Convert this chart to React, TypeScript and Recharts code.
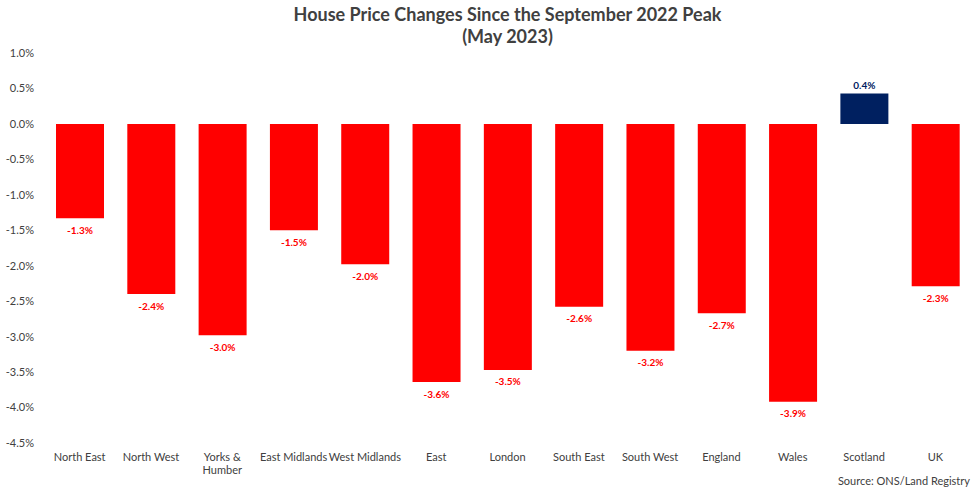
import { BarChart, Bar, XAxis, YAxis, Cell, LabelList } from 'recharts'

const regions = [
  'North East',
  'North West',
  'Yorks & Humber',
  'East Midlands',
  'West Midlands',
  'East',
  'London',
  'South East',
  'South West',
  'England',
  'Wales',
  'Scotland',
  'UK',
]
const changePct = [-1.33, -2.4, -2.98, -1.5, -1.98, -3.64, -3.47, -2.58, -3.2, -2.67, -3.92, 0.43, -2.29]
const yTicks = [1, 0.5, 0, -0.5, -1, -1.5, -2, -2.5, -3, -3.5, -4, -4.5]
// labels that wrap onto two lines in the original
const wrapped: Record<string, string[]> = { 'Yorks & Humber': ['Yorks &', 'Humber'] }

const RED = '#FF0000'
const NAVY = '#002060'
const TEXT = '#404040'
const FONT = 'Lato, "Open Sans", sans-serif'

const data = regions.map((name, i) => ({ name, v: changePct[i] }))

function CatTick(props: any) {
  const { x, y, payload } = props
  const lines = wrapped[payload.value] ?? [payload.value]
  return (
    <text x={x} y={y + 2} textAnchor="middle" fill={TEXT} fontSize={11} fontFamily={FONT}>
      {lines.map((l, i) => (
        <tspan key={i} x={x} dy={i === 0 ? '0.71em' : 13}>
          {l}
        </tspan>
      ))}
    </text>
  )
}

function ValueLabel(props: any) {
  const { x, y, width, height, value } = props
  const top = Math.min(y, y + height)
  const bottom = Math.max(y, y + height)
  const neg = value < 0
  return (
    <text
      x={x + width / 2}
      y={neg ? bottom + 12 : top - 8}
      dy="0.35em"
      textAnchor="middle"
      fill={neg ? RED : NAVY}
      fontSize={10}
      fontWeight="bold"
      fontFamily={FONT}
    >
      {`${value.toFixed(1)}%`}
    </text>
  )
}

export default function App() {
  return (
    <div style={{ position: 'absolute', left: 0, top: 0, width: 975, height: 489, background: '#fff', fontFamily: FONT }}>
      <div
        style={{
          position: 'absolute',
          left: 44,
          width: 927,
          top: 3,
          textAlign: 'center',
          color: TEXT,
          fontWeight: 'bold',
          fontSize: 18,
          lineHeight: '22px',
        }}
      >
        House Price Changes Since the September 2022 Peak
        <br />
        (May 2023)
      </div>
      <BarChart
        width={975}
        height={489}
        data={data}
        margin={{ top: 53, right: 4, left: 0, bottom: 6 }}
        barSize={48}
      >
        <YAxis
          width={44}
          domain={[-4.5, 1]}
          ticks={yTicks}
          interval={0}
          axisLine={false}
          tickLine={false}
          tickMargin={4}
          tickFormatter={(v: number) => `${v.toFixed(1)}%`}
          tick={{ fill: TEXT, fontSize: 11, fontFamily: FONT }}
        />
        <XAxis
          dataKey="name"
          height={40}
          interval={0}
          axisLine={false}
          tickLine={false}
          tick={<CatTick />}
        />
        <Bar dataKey="v" isAnimationActive={false}>
          {data.map((d, i) => (
            <Cell key={i} fill={d.v >= 0 ? NAVY : RED} />
          ))}
          <LabelList dataKey="v" content={<ValueLabel />} />
        </Bar>
      </BarChart>
      <div
        style={{
          position: 'absolute',
          right: 5,
          top: 474,
          fontSize: 11,
          color: TEXT,
        }}
      >
        Source: ONS/Land Registry
      </div>
    </div>
  )
}
